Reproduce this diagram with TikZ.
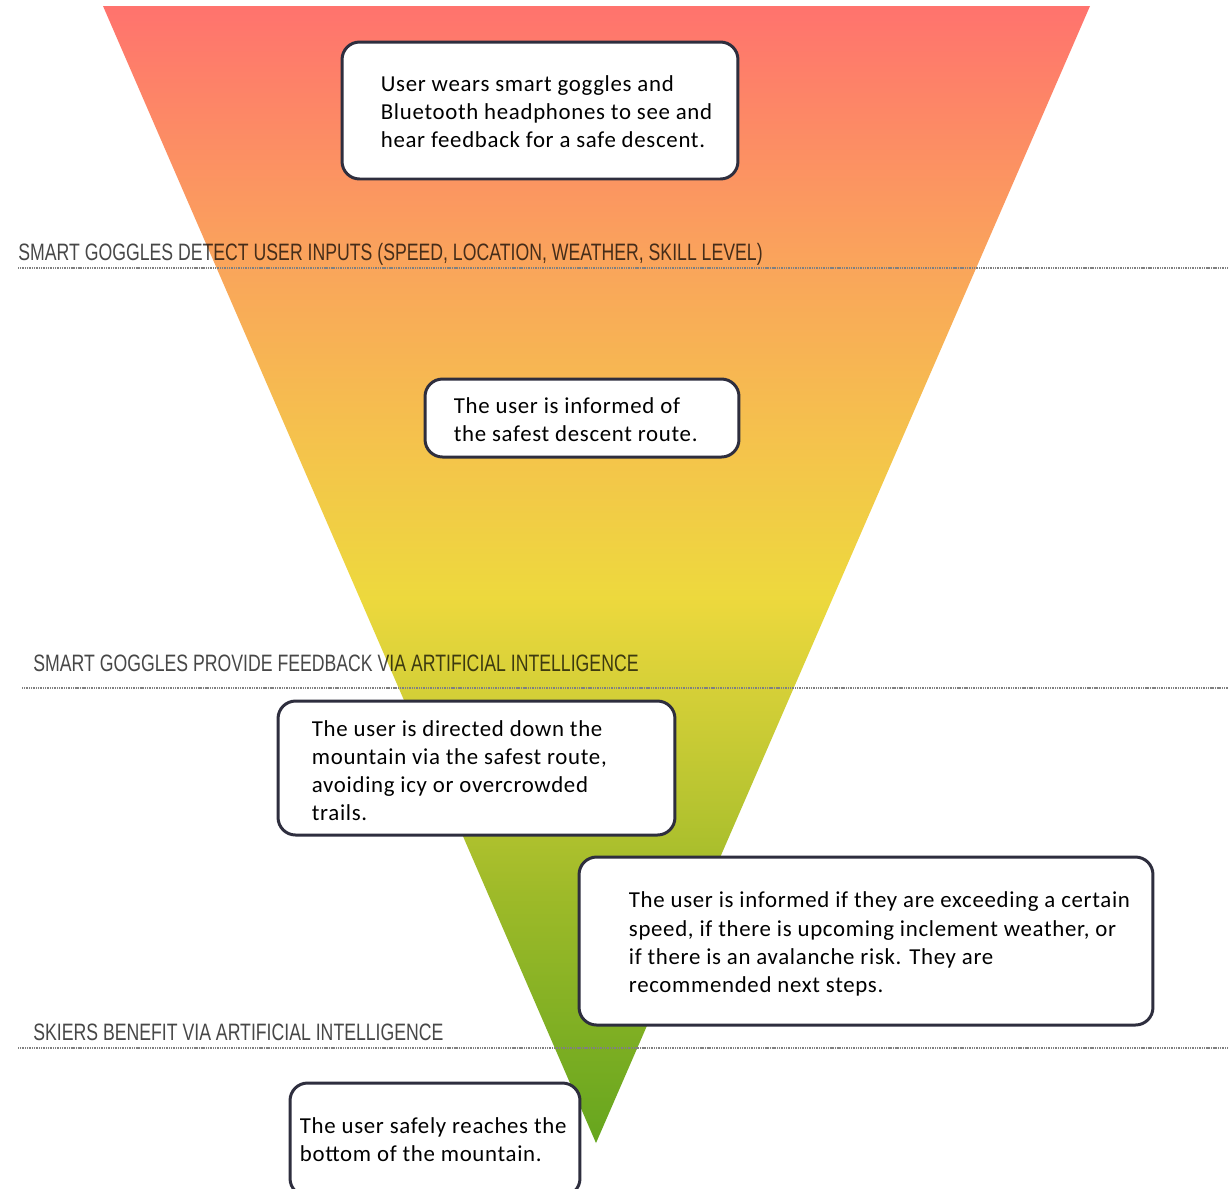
\documentclass[tikz,border=0pt]{standalone}
\usepackage{fontspec}
\setmainfont[LetterSpace=3]{Carlito}
\newfontfamily\stagefont[FakeStretch=0.745]{Liberation Sans}
\usetikzlibrary{positioning}
\definecolor{boxline}{RGB}{46,46,62}
\newcommand{\boxcolor}{boxline}
\newcommand{\stagecolor}{black}
% slope colours, green at the tip up to red at the top
\pgfdeclareverticalshading{skislope}{100bp}{%
  rgb(0bp)=(0.40,0.65,0.12); rgb(25bp)=(0.40,0.65,0.12);
  rgb(36bp)=(0.62,0.73,0.16); rgb(40bp)=(0.72,0.77,0.19);
  rgb(49bp)=(0.93,0.85,0.24); rgb(56bp)=(0.96,0.76,0.30);
  rgb(64bp)=(0.98,0.64,0.36); rgb(75bp)=(1.00,0.45,0.43);
  rgb(100bp)=(1.00,0.45,0.43)}
\tikzset{
	stepbox/.style={draw=\boxcolor, line width=1.7pt, fill=white, rounded corners=3.5mm, inner sep=0pt},
	steptext/.style={font=\fontsize{13}{16}\selectfont, align=left, inner sep=0pt, anchor=west},
	stagelabel/.style={font=\stagefont\fontsize{13.5}{15}\selectfont, text=\stagecolor, text opacity=0.72, inner sep=0pt, anchor=base west},
	stageline/.style={draw=gray, line width=0.6pt, dash pattern=on 0.6pt off 0.4pt},
}

\begin{document}
\begin{tikzpicture}[x=0.02cm, y=-0.02cm]
	\clip (0,0) rectangle (1229,1188);
	\fill[white] (0,0) rectangle (1229,1188);

	% the slope
	\shade[shading=skislope] (103,6) -- (1090,6) -- (596,1143) -- cycle;

	% stages and dividing lines
	\node[stagelabel] (s1) at (18,260) {SMART GOGGLES DETECT USER INPUTS (SPEED, LOCATION, WEATHER, SKILL LEVEL)};
	\draw[stageline] (18,268) -- (1229,268);
	\node[stagelabel] (s2) at (33,671) {SMART GOGGLES PROVIDE FEEDBACK VIA ARTIFICIAL INTELLIGENCE};
	\draw[stageline] (22,688) -- (1229,688);
	\node[stagelabel] (s3) at (33,1040) {SKIERS BENEFIT VIA ARTIFICIAL INTELLIGENCE};
	\draw[stageline] (18,1048) -- (1229,1048);

	% boxes
	\node[stepbox, minimum width=79.2mm, minimum height=27.4mm] (b1) at (540,110.5) {};
	\node[steptext] (t1) at ([xshift=8mm,yshift=-0.3mm]b1.west) {User wears smart goggles and\\Bluetooth headphones to see and\\hear feedback for a safe descent.};

	\node[stepbox, minimum width=62.8mm, minimum height=15.6mm] (b2) at (582,418) {};
	\node[steptext] (t2) at ([xshift=6mm,yshift=-0.3mm]b2.west) {The user is informed of\\the safest descent route.};

	\node[stepbox, minimum width=79.4mm, minimum height=26.8mm] (b3) at (476.5,768) {};
	\node[steptext] (t3) at ([xshift=7mm,yshift=-0.5mm]b3.west) {The user is directed down the\\mountain via the safest route,\\avoiding icy or overcrowded\\trails.};

	\node[stepbox, minimum width=114.8mm, minimum height=33.6mm] (b4) at (866,941) {};
	\node[steptext] (t4) at ([xshift=10.2mm,yshift=-0.6mm]b4.west) {The user is informed if they are exceeding a certain\\speed, if there is upcoming inclement weather, or\\if there is an avalanche risk. They are\\recommended next steps.};

	\node[stepbox, minimum width=58mm, minimum height=22.6mm] (b5) at (435,1139.5) {};
	\node[steptext] (t5) at ([xshift=2.2mm]b5.west) {The user safely reaches the\\bottom of the mountain.};
\end{tikzpicture}
\end{document}
